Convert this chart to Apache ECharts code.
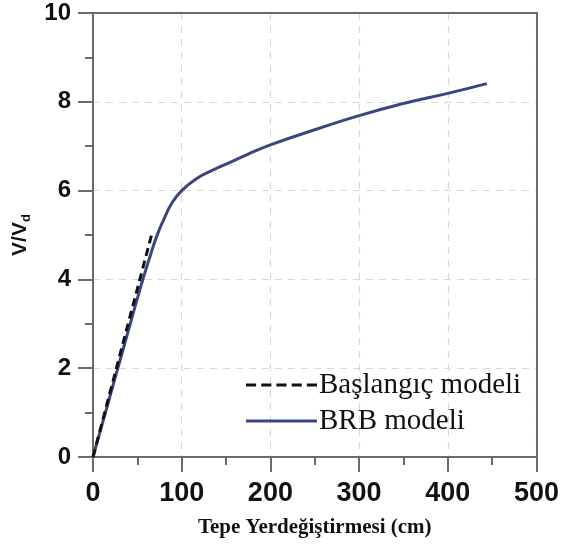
<!DOCTYPE html>
<html>
<head>
<meta charset="utf-8">
<script src="https://cdn.jsdelivr.net/npm/echarts@6/dist/echarts.min.js"></script>
<style>
  html, body { margin: 0; padding: 0; background: #fff; }
  #chart { width: 562px; height: 548px; }
</style>
</head>
<body>
<div id="chart"></div>
<script>
// Pushover capacity curves: top displacement (cm) vs. normalised base shear V/Vd
const initialModelX = [0, 66];
const initialModelY = [0, 5.0];

const brbModelX = [0, 14, 28, 42, 54, 64, 72, 80, 89, 100, 117, 135, 154, 175, 200, 250, 300, 350, 400, 444];
const brbModelY = [0, 1.0, 2.0, 3.0, 3.85, 4.5, 4.98, 5.36, 5.72, 6.0, 6.27, 6.46, 6.63, 6.82, 7.03, 7.37, 7.69, 7.96, 8.19, 8.41];

const seriesNames = ['Başlangıç modeli', 'BRB modeli'];
const xTicks = [0, 100, 200, 300, 400, 500];
const yTicks = [0, 2, 4, 6, 8, 10];

const pairs = (xs, ys) => xs.map((x, i) => [x, ys[i]]);

const axisColor = '#6a6a6a';
const gridLine = { show: true, lineStyle: { color: '#d9d9d9', type: [7, 6], width: 1.2 } };

// legend glyphs: a dashed stroke and a solid stroke
const dashedIcon = 'path://M0,0h10v2h-10z M15,0h10v2h-10z M30,0h10v2h-10z M45,0h10v2h-10z M60,0h10v2h-10z';
const solidIcon = 'path://M0,0h70v2h-70z';

// plain frame lines for the top and right edges of the plot box
const frameAxis = {
  type: 'value', position: null, show: true,
  axisLine: { show: true, onZero: false, lineStyle: { color: axisColor, width: 2 } },
  axisTick: { show: false }, axisLabel: { show: false }, splitLine: { show: false }
};

const chart = echarts.init(document.getElementById('chart'), null, { renderer: 'canvas' });
chart.setOption({
  animation: false,
  backgroundColor: '#ffffff',
  grid: { left: 93, right: 25, top: 13, bottom: 91 },
  legend: {
    orient: 'vertical',
    left: 241, top: 365,
    itemWidth: 71, itemHeight: 3, itemGap: 6,
    symbolKeepAspect: false,
    textStyle: { fontFamily: 'Liberation Serif', fontSize: 29, color: '#111', lineHeight: 30, padding: [0, 0, 0, -3] },
    data: [
      { name: seriesNames[0], icon: dashedIcon, itemStyle: { color: '#111111' } },
      { name: seriesNames[1], icon: solidIcon, itemStyle: { color: '#3b4680' } }
    ]
  },
  xAxis: [{
    type: 'value', min: xTicks[0], max: xTicks[xTicks.length - 1], interval: 100,
    name: 'Tepe Yerdeğiştirmesi (cm)', nameLocation: 'middle', nameGap: 60,
    nameTextStyle: { fontFamily: 'Liberation Serif', fontWeight: 'bold', fontSize: 21, color: '#111' },
    axisLine: { show: true, onZero: false, lineStyle: { color: axisColor, width: 2 } },
    axisTick: { show: true, inside: false, length: 15, lineStyle: { color: axisColor, width: 2 } },
    minorTick: { show: true, splitNumber: 2, length: 8, lineStyle: { color: axisColor, width: 2 } },
    axisLabel: { margin: 23, fontFamily: 'Liberation Sans', fontWeight: 'bold', fontSize: 27, color: '#111' },
    splitLine: gridLine
  }, Object.assign({}, frameAxis, { position: 'top', min: 0, max: 500 })],
  yAxis: [{
    type: 'value', min: yTicks[0], max: yTicks[yTicks.length - 1], interval: 2,
    name: '{a|V/V}{b|d}', nameLocation: 'middle', nameGap: 59, nameRotate: 90,
    nameTextStyle: {
      rich: {
        a: { fontFamily: 'Liberation Sans', fontWeight: 'bold', fontSize: 21, color: '#111', lineHeight: 26, verticalAlign: 'middle' },
        b: { fontFamily: 'Liberation Sans', fontWeight: 'bold', fontSize: 13, color: '#111', lineHeight: 26, verticalAlign: 'bottom', padding: [12, 0, 0, 0] }
      }
    },
    axisLine: { show: true, onZero: false, lineStyle: { color: axisColor, width: 2 } },
    axisTick: { show: true, inside: false, length: 15, lineStyle: { color: axisColor, width: 2 } },
    minorTick: { show: true, splitNumber: 2, length: 8, lineStyle: { color: axisColor, width: 2 } },
    axisLabel: { margin: 22, fontFamily: 'Liberation Sans', fontWeight: 'bold', fontSize: 24, color: '#111' },
    splitLine: gridLine
  }, Object.assign({}, frameAxis, { position: 'right', min: 0, max: 10 })],
  series: [
    {
      name: seriesNames[0], type: 'line', symbol: 'none', z: 3,
      data: pairs(initialModelX, initialModelY),
      lineStyle: { color: '#111111', width: 3, type: [8, 5] },
      itemStyle: { color: '#111111' }
    },
    {
      name: seriesNames[1], type: 'line', symbol: 'none', smooth: 0.5, z: 2,
      data: pairs(brbModelX, brbModelY),
      lineStyle: { color: '#3b4680', width: 3 },
      itemStyle: { color: '#3b4680' }
    }
  ]
});
</script>
</body>
</html>
